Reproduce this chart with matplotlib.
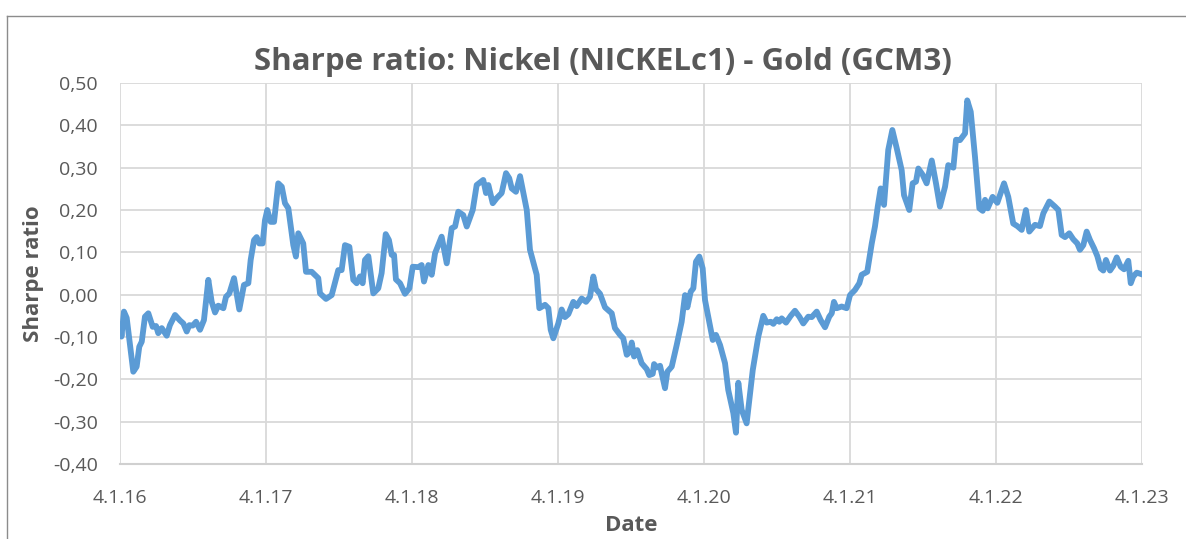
import numpy as np
import matplotlib.pyplot as plt
from matplotlib.lines import Line2D
from matplotlib.ticker import FuncFormatter

# Sharpe ratio series; x is years elapsed since 4.1.2016
years = [0.005, 0.010, 0.027, 0.046, 0.091, 0.114, 0.132, 0.149, 0.171, 0.194,
         0.224, 0.247, 0.262, 0.286, 0.320, 0.342, 0.377, 0.411, 0.434, 0.457,
         0.475, 0.498, 0.521, 0.548, 0.575, 0.605, 0.628, 0.651, 0.673, 0.708,
         0.726, 0.749, 0.781, 0.817, 0.849, 0.879, 0.895, 0.918, 0.936, 0.954,
         0.977, 0.993, 1.009, 1.032, 1.055, 1.084, 1.108, 1.130, 1.153, 1.187,
         1.205, 1.221, 1.255, 1.274, 1.313, 1.358, 1.370, 1.411, 1.450, 1.495,
         1.518, 1.541, 1.571, 1.598, 1.621, 1.644, 1.662, 1.678, 1.701, 1.735,
         1.769, 1.792, 1.820, 1.842, 1.861, 1.877, 1.890, 1.918, 1.952, 1.982,
         2.005, 2.043, 2.066, 2.082, 2.112, 2.135, 2.158, 2.203, 2.238, 2.272,
         2.295, 2.317, 2.351, 2.375, 2.416, 2.443, 2.488, 2.507, 2.523, 2.553,
         2.580, 2.614, 2.644, 2.666, 2.683, 2.712, 2.740, 2.786, 2.808, 2.854,
         2.872, 2.911, 2.934, 2.950, 2.968, 3.002, 3.025, 3.048, 3.071, 3.105,
         3.128, 3.162, 3.192, 3.219, 3.242, 3.260, 3.288, 3.322, 3.368, 3.390,
         3.425, 3.447, 3.471, 3.493, 3.505, 3.521, 3.543, 3.573, 3.608, 3.625,
         3.649, 3.658, 3.676, 3.699, 3.733, 3.749, 3.779, 3.813, 3.847, 3.870,
         3.886, 3.909, 3.927, 3.945, 3.968, 3.991, 4.007, 4.029, 4.060, 4.082,
         4.110, 4.144, 4.166, 4.201, 4.219, 4.235, 4.258, 4.292, 4.334, 4.372,
         4.406, 4.429, 4.457, 4.475, 4.498, 4.516, 4.532, 4.562, 4.594, 4.623,
         4.653, 4.680, 4.714, 4.738, 4.772, 4.799, 4.829, 4.858, 4.875, 4.890,
         4.909, 4.943, 4.977, 5.000, 5.034, 5.064, 5.080, 5.118, 5.149, 5.171,
         5.190, 5.210, 5.233, 5.262, 5.290, 5.320, 5.354, 5.370, 5.406, 5.429,
         5.452, 5.468, 5.498, 5.525, 5.560, 5.589, 5.616, 5.651, 5.673, 5.708,
         5.726, 5.753, 5.788, 5.803, 5.827, 5.856, 5.886, 5.909, 5.925, 5.943,
         5.977, 6.009, 6.055, 6.084, 6.118, 6.146, 6.176, 6.205, 6.228, 6.267,
         6.301, 6.324, 6.365, 6.404, 6.427, 6.450, 6.473, 6.502, 6.529, 6.557,
         6.575, 6.598, 6.621, 6.644, 6.671, 6.694, 6.717, 6.735, 6.753, 6.781,
         6.803, 6.827, 6.854, 6.877, 6.906, 6.923, 6.940, 6.964, 6.991]
sharpe = [-0.076, -0.099, -0.040, -0.055, -0.182, -0.170, -0.123, -0.111, -0.052, -0.044,
          -0.076, -0.074, -0.091, -0.079, -0.097, -0.072, -0.048, -0.061, -0.068, -0.087,
          -0.072, -0.073, -0.064, -0.083, -0.060, 0.035, -0.017, -0.042, -0.026, -0.032,
          -0.005, 0.003, 0.039, -0.035, 0.023, 0.027, 0.082, 0.129, 0.136, 0.121,
          0.121, 0.176, 0.200, 0.172, 0.172, 0.263, 0.255, 0.216, 0.204, 0.117,
          0.090, 0.145, 0.121, 0.054, 0.054, 0.039, 0.003, -0.010, -0.001, 0.058,
          0.058, 0.117, 0.113, 0.035, 0.027, 0.043, 0.027, 0.082, 0.091, 0.003,
          0.015, 0.051, 0.143, 0.129, 0.094, 0.094, 0.036, 0.027, 0.002, 0.015,
          0.066, 0.065, 0.070, 0.031, 0.070, 0.047, 0.098, 0.137, 0.074, 0.157,
          0.161, 0.196, 0.188, 0.161, 0.200, 0.259, 0.271, 0.240, 0.259, 0.216,
          0.228, 0.240, 0.287, 0.275, 0.251, 0.243, 0.280, 0.200, 0.106, 0.047,
          -0.032, -0.024, -0.032, -0.083, -0.103, -0.068, -0.035, -0.053, -0.046, -0.017,
          -0.027, -0.009, -0.017, -0.005, 0.043, 0.013, 0.002, -0.030, -0.044, -0.079,
          -0.095, -0.103, -0.142, -0.135, -0.113, -0.146, -0.131, -0.162, -0.176, -0.190,
          -0.187, -0.164, -0.172, -0.168, -0.221, -0.182, -0.170, -0.119, -0.064, -0.001,
          -0.030, 0.007, 0.015, 0.078, 0.090, 0.062, -0.013, -0.052, -0.107, -0.095,
          -0.119, -0.162, -0.225, -0.280, -0.326, -0.208, -0.272, -0.304, -0.178, -0.099,
          -0.050, -0.066, -0.064, -0.069, -0.058, -0.064, -0.056, -0.066, -0.050, -0.038,
          -0.052, -0.068, -0.052, -0.053, -0.040, -0.060, -0.077, -0.052, -0.044, -0.017,
          -0.032, -0.028, -0.032, -0.001, 0.011, 0.027, 0.047, 0.054, 0.121, 0.161,
          0.208, 0.251, 0.212, 0.342, 0.389, 0.346, 0.294, 0.235, 0.200, 0.263,
          0.267, 0.298, 0.283, 0.263, 0.317, 0.263, 0.208, 0.255, 0.306, 0.300,
          0.366, 0.365, 0.381, 0.459, 0.432, 0.326, 0.204, 0.198, 0.224, 0.204,
          0.231, 0.217, 0.263, 0.231, 0.168, 0.162, 0.153, 0.200, 0.149, 0.165,
          0.162, 0.192, 0.220, 0.208, 0.200, 0.141, 0.136, 0.145, 0.131, 0.121,
          0.106, 0.117, 0.149, 0.129, 0.110, 0.091, 0.062, 0.057, 0.082, 0.057,
          0.068, 0.088, 0.066, 0.060, 0.080, 0.027, 0.043, 0.052, 0.049]

tick_labels = ['4.1.16', '4.1.17', '4.1.18', '4.1.19', '4.1.20', '4.1.21', '4.1.22', '4.1.23']

gray = '#595959'
plt.rcParams['font.family'] = ['Open Sans', 'DejaVu Sans']

fig = plt.figure(figsize=(11.86, 5.39), dpi=100)
ax = fig.add_axes([120 / 1186, 1 - 464 / 539, (1142 - 120) / 1186, (464 - 83) / 539])

ax.plot(years, sharpe, color='#5b9bd5', lw=4.2, solid_joinstyle='round', zorder=3)

ax.set_xlim(0, 7)
ax.set_ylim(-0.40, 0.50)
ax.set_xticks(range(8))
ax.set_xticklabels(tick_labels)
ax.set_yticks(np.arange(-0.4, 0.51, 0.1))
ax.yaxis.set_major_formatter(FuncFormatter(lambda v, p: ('%.2f' % v).replace('.', ',').replace('-0,00', '0,00')))

ax.grid(True, color='#d9d9d9', lw=1.3)
ax.set_axisbelow(True)
for s in ['top', 'right', 'left']:
    ax.spines[s].set_visible(False)
ax.spines['bottom'].set_color('#d0d0d0')
ax.spines['bottom'].set_linewidth(1.5)
ax.tick_params(length=0, labelsize=14, colors=gray)
ax.tick_params(axis='x', pad=18)
ax.tick_params(axis='y', pad=16)

ax.set_xlabel('Date', fontsize=16, fontweight='bold', color=gray, labelpad=6)
ax.set_ylabel('Sharpe ratio', fontsize=16, fontweight='bold', color=gray, labelpad=6)
fig.text(603 / 1186, 1 - 62 / 539, 'Sharpe ratio: Nickel (NICKELc1) - Gold (GCM3)', ha='center', va='center',
         fontsize=22.5, fontweight='bold', color=gray)

# chart frame
fig.add_artist(Line2D([7 / 1186, 1], [1 - 16 / 539, 1 - 16 / 539], color='#8c8c8c', lw=1))
fig.add_artist(Line2D([7 / 1186, 7 / 1186], [0, 1 - 16 / 539], color='#8c8c8c', lw=1))

fig.savefig('out.png', dpi=100)
